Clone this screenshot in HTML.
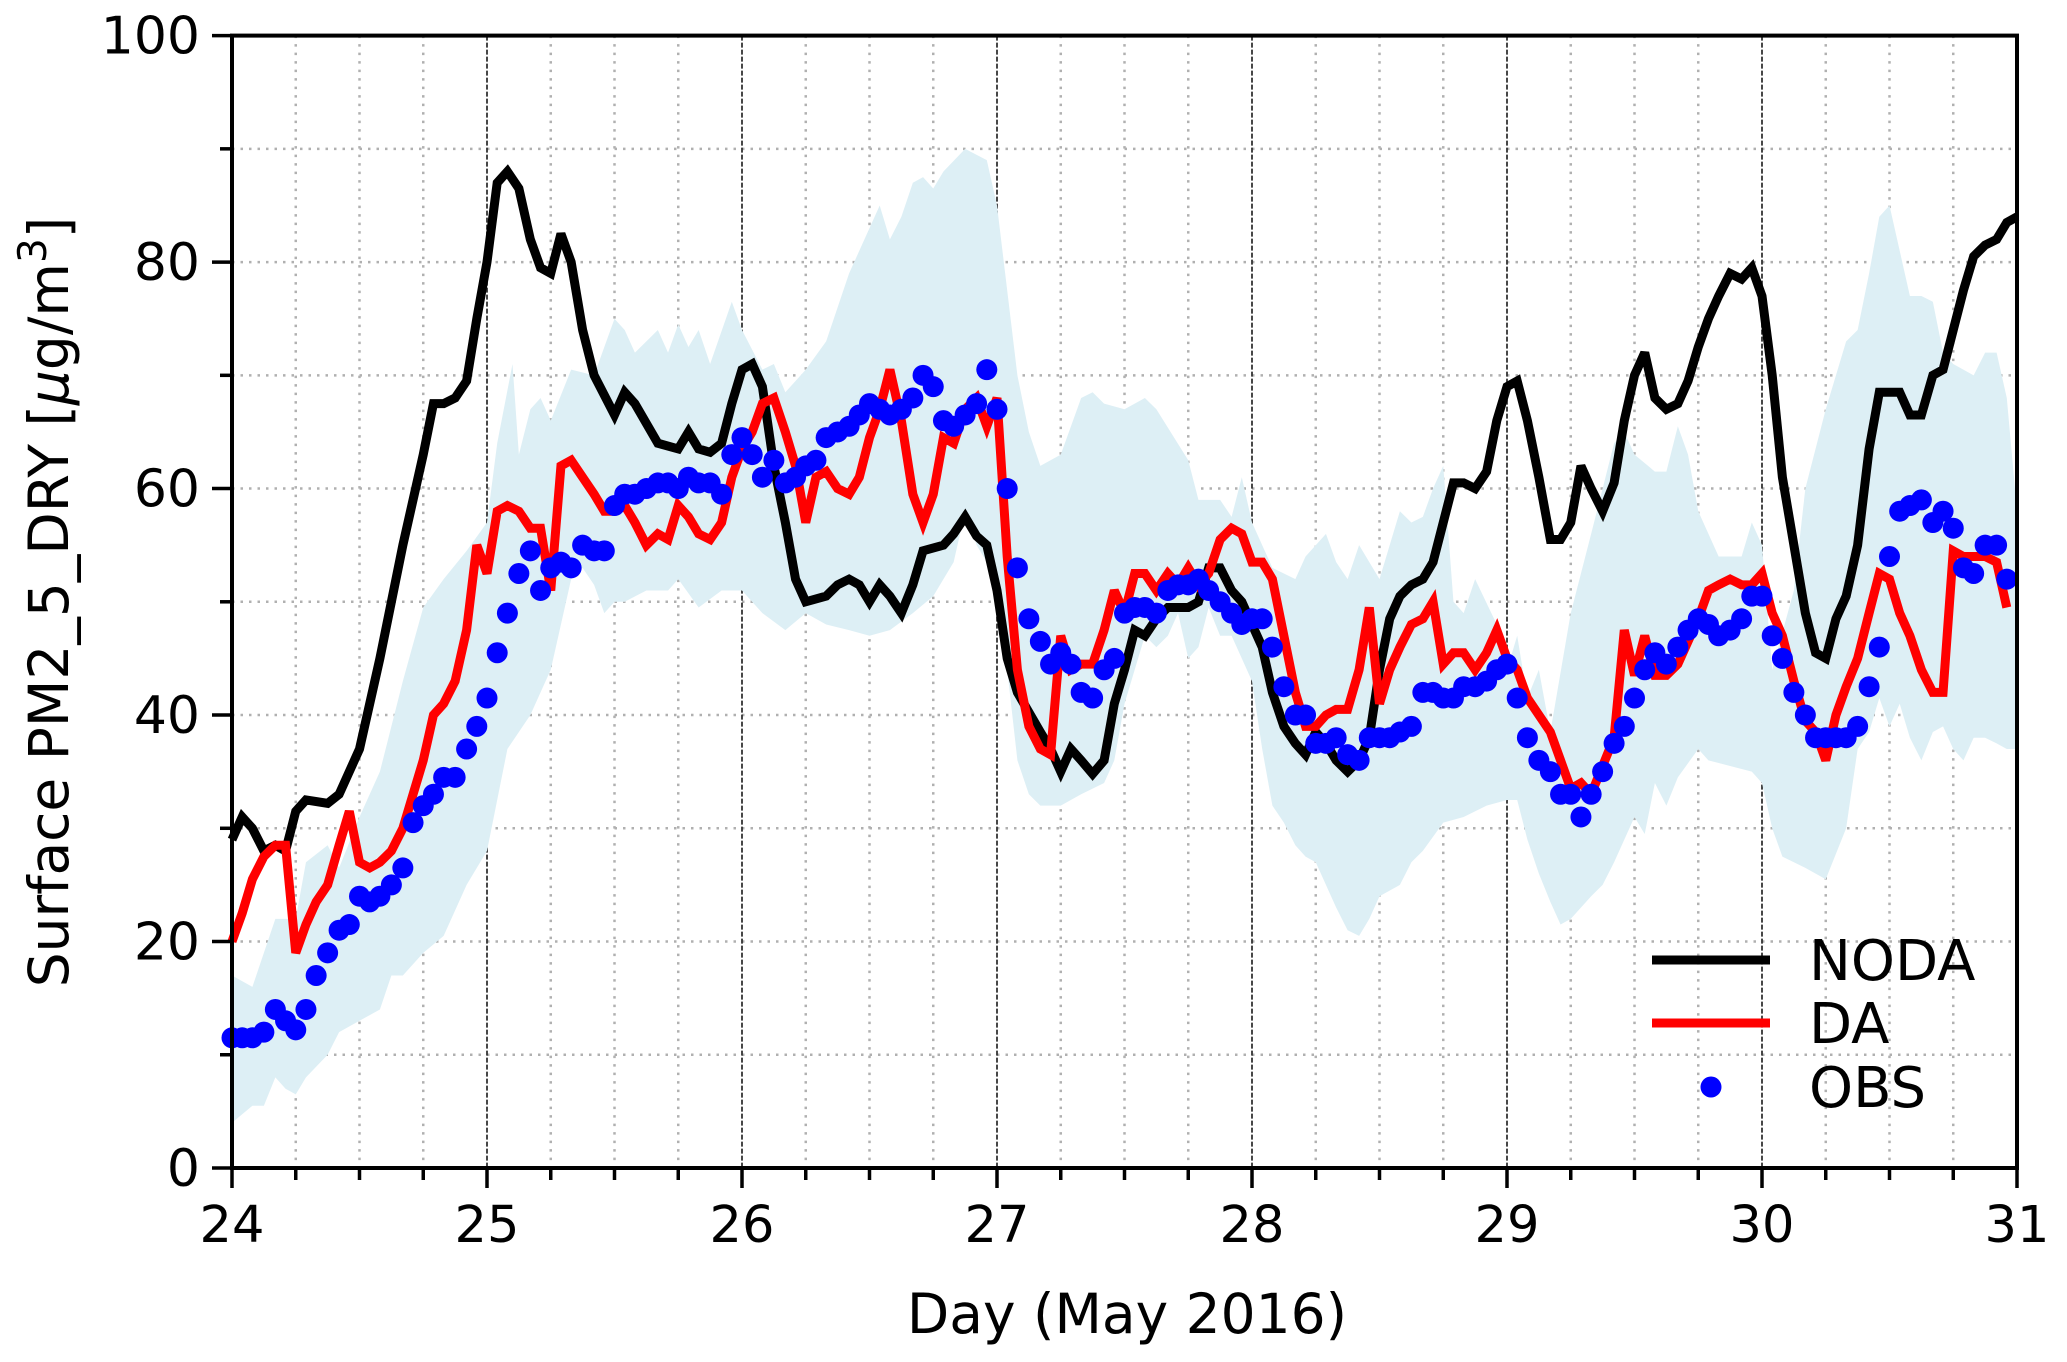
<!DOCTYPE html>
<html><head><meta charset="utf-8"><style>
html,body{margin:0;padding:0;background:#fff;}
svg{display:block;font-family:"DejaVu Sans","Liberation Sans",sans-serif;}
</style></head><body>
<svg id="chart" width="2067" height="1362" viewBox="0 0 2067 1362" xmlns="http://www.w3.org/2000/svg">
<g id="grid"></g>
<g id="band"></g>
<g id="series"></g>
<g id="axes"></g>
<text transform="translate(68,602) rotate(-90)" text-anchor="middle" font-size="55">Surface PM2_5_DRY [<tspan font-style="italic">μ</tspan>g/m<tspan dy="-22" font-size="39">3</tspan><tspan dy="22">]</tspan></text>
<text x="1127" y="1333" text-anchor="middle" font-size="55">Day (May 2016)</text>
<g>
<line x1="1652" y1="960" x2="1770" y2="960" stroke="#000" stroke-width="9"/>
<text x="1809" y="980" font-size="56">NODA</text>
<line x1="1652" y1="1023" x2="1770" y2="1023" stroke="#f00" stroke-width="9"/>
<text x="1809" y="1043" font-size="56">DA</text>
<circle cx="1711" cy="1087" r="10.5" fill="#00f"/>
<text x="1809" y="1107" font-size="56">OBS</text>
</g>
</svg>
<script>
const xTicks=[24,25,26,27,28,29,30,31];
const yTicks=[0,20,40,60,80,100];
const nodaT=[24.0,24.04,24.08,24.125,24.17,24.21,24.25,24.29,24.375,24.42,24.5,24.58,24.67,24.75,24.79,24.83,24.875,24.92,24.96,25.0,25.04,25.08,25.125,25.17,25.21,25.25,25.29,25.33,25.375,25.42,25.5,25.54,25.58,25.67,25.75,25.79,25.83,25.875,25.92,25.96,26.0,26.04,26.08,26.125,26.17,26.21,26.25,26.33,26.375,26.42,26.46,26.5,26.54,26.58,26.625,26.67,26.71,26.79,26.83,26.875,26.92,26.96,27.0,27.04,27.08,27.17,27.21,27.25,27.29,27.33,27.375,27.42,27.46,27.5,27.54,27.58,27.625,27.67,27.75,27.79,27.83,27.875,27.92,27.96,28.0,28.04,28.08,28.125,28.17,28.21,28.25,28.29,28.33,28.375,28.42,28.46,28.5,28.54,28.58,28.625,28.67,28.71,28.75,28.79,28.83,28.875,28.92,28.96,29.0,29.04,29.08,29.125,29.17,29.21,29.25,29.29,29.33,29.375,29.42,29.46,29.5,29.54,29.58,29.625,29.67,29.71,29.75,29.79,29.83,29.875,29.92,29.96,30.0,30.04,30.08,30.125,30.17,30.21,30.25,30.29,30.33,30.375,30.42,30.46,30.5,30.54,30.58,30.625,30.67,30.71,30.75,30.79,30.83,30.875,30.92,30.96,31.0];
const nodaV=[29,31,30,28,28.5,28,31.5,32.5,32.2,33,37,45,55,63,67.5,67.5,68,69.5,75,80,87,88,86.5,82,79.5,79,82.5,80,74,70,66.5,68.5,67.5,64,63.5,65,63.5,63.2,64,67.5,70.5,71,69,62,57,52,50,50.5,51.5,52,51.5,50,51.5,50.5,49,51.5,54.5,55,56,57.5,55.8,55,51,45,42,38.5,37,35,37,36,34.8,36,41,44,47.5,47,48.5,49.5,49.5,50,53,53,51,50,48,46,42,39,37.5,36.5,38.5,37.5,36,35,36,38,44,48.5,50.5,51.5,52,53.5,57,60.5,60.5,60,61.5,66,69,69.5,66,61,55.5,55.5,57,62,60,58,60.5,66,70,72,68,67,67.5,69.5,72.5,75,77,79,78.5,79.5,77,70,61,55,49,45.5,45,48.5,50.5,55,63.5,68.5,68.5,68.5,66.5,66.5,70,70.5,74,77.5,80.5,81.5,82,83.5,84];
const daT=[24.0,24.04,24.08,24.125,24.17,24.21,24.25,24.29,24.33,24.375,24.42,24.46,24.5,24.54,24.58,24.625,24.67,24.71,24.75,24.79,24.83,24.875,24.92,24.96,25.0,25.04,25.08,25.125,25.17,25.21,25.25,25.29,25.33,25.375,25.42,25.46,25.5,25.54,25.58,25.625,25.67,25.71,25.75,25.79,25.83,25.875,25.92,25.96,26.0,26.04,26.08,26.125,26.17,26.21,26.25,26.29,26.33,26.375,26.42,26.46,26.5,26.54,26.58,26.625,26.67,26.71,26.75,26.79,26.83,26.875,26.92,26.96,27.0,27.04,27.08,27.125,27.17,27.21,27.25,27.29,27.33,27.375,27.42,27.46,27.5,27.54,27.58,27.625,27.67,27.71,27.75,27.79,27.83,27.875,27.92,27.96,28.0,28.04,28.08,28.125,28.17,28.21,28.25,28.29,28.33,28.375,28.42,28.46,28.5,28.54,28.58,28.625,28.67,28.71,28.75,28.79,28.83,28.875,28.92,28.96,29.0,29.04,29.08,29.125,29.17,29.21,29.25,29.29,29.33,29.375,29.42,29.46,29.5,29.54,29.58,29.625,29.67,29.71,29.75,29.79,29.83,29.875,29.92,29.96,30.0,30.04,30.08,30.125,30.17,30.21,30.25,30.29,30.33,30.375,30.42,30.46,30.5,30.54,30.58,30.625,30.67,30.71,30.75,30.79,30.83,30.875,30.92,30.96];
const daV=[20,22.5,25.5,27.5,28.5,28.5,19,21.5,23.5,25,28.5,31.5,27,26.5,27,28,30,33,36,40,41,43,47.5,55,52.5,58,58.5,58,56.5,56.5,51,62,62.5,61,59.5,58,58,58.5,57,55,56,55.5,58.5,57.5,56,55.5,57,61,63.5,65,67.5,68,65,62,57,61,61.5,60,59.5,61,64.5,67,70.5,66,59.5,57,59.5,64.5,64,67,68,65.5,68,54,44,39,37,36.5,47,44,44.5,44.5,47.5,51,49,52.5,52.5,51,52.5,51.5,53,51.5,52.5,55.5,56.5,56,53.5,53.5,52,47,42,39,39,40,40.5,40.5,44,49.5,41,44,46,48,48.5,50,44.5,45.5,45.5,44,45.5,47.5,45,44,41.5,40,38.5,36,33.5,34,33,35.5,38,47.5,43.5,47,43.5,43.5,44.5,46.5,48.5,51,51.5,52,51.5,51.5,52.5,49,47,43,39.5,38.5,36,40,42.5,45,49,52.5,52,49,47,44,42,42,54.5,54,54,54,53.5,49.5];
const obsT=daT;
const obsV=[11.5,11.5,11.5,12,14,13,12.2,14,17,19,21,21.5,24,23.5,24,25,26.5,30.5,32,33,34.5,34.5,37,39,41.5,45.5,49,52.5,54.5,51,53,53.5,53,55,54.5,54.5,58.5,59.5,59.5,60,60.5,60.5,60,61,60.5,60.5,59.5,63,64.5,63,61,62.5,60.5,61,62,62.5,64.5,65,65.5,66.5,67.5,67,66.5,67,68,70,69,66,65.5,66.5,67.5,70.5,67,60,53,48.5,46.5,44.5,45.5,44.5,42,41.5,44,45,49,49.5,49.5,49,51,51.5,51.5,52,51,50,49,48,48.5,48.5,46,42.5,40,40,37.5,37.5,38,36.5,36,38,38,38,38.5,39,42,42,41.5,41.5,42.5,42.5,43,44,44.5,41.5,38,36,35,33,33,31,33,35,37.5,39,41.5,44,45.5,44.5,46,47.5,48.5,48,47,47.5,48.5,50.5,50.5,47,45,42,40,38,38,38,38,39,42.5,46,54,58,58.5,59,57,58,56.5,53,52.5,55,55,52];
const bandUpT=[24.0,24.08,24.17,24.25,24.29,24.375,24.42,24.5,24.58,24.67,24.75,24.83,24.92,25.0,25.04,25.1,25.125,25.17,25.21,25.25,25.33,25.42,25.5,25.54,25.58,25.67,25.71,25.75,25.79,25.83,25.875,25.96,26.0,26.08,26.125,26.17,26.25,26.33,26.42,26.5,26.54,26.58,26.625,26.67,26.71,26.75,26.79,26.875,26.96,27.0,27.08,27.125,27.17,27.25,27.33,27.375,27.42,27.5,27.58,27.625,27.75,27.79,27.875,27.92,27.96,28.0,28.08,28.17,28.21,28.29,28.33,28.375,28.42,28.5,28.58,28.625,28.67,28.71,28.75,28.79,28.83,28.875,28.96,29.0,29.04,29.08,29.125,29.17,29.25,29.33,29.42,29.46,29.5,29.58,29.625,29.67,29.71,29.75,29.83,29.875,29.92,29.96,30.0,30.04,30.125,30.17,30.25,30.33,30.375,30.42,30.46,30.5,30.54,30.58,30.625,30.67,30.71,30.75,30.83,30.875,30.92,30.96,31.0];
const bandUpV=[17,16,22,22,27,28.5,26.5,31,35,43,49.5,52,54.5,57,64,71,63,67,68,66,70.5,70,75,74,72,74,72,74.5,72.5,74,71,76.5,74,70.5,71,68.5,70.5,73,79,83,85,82,84,87,87.5,86.5,88,90,89,85,70,65,62,63,68,68.5,67.5,67,68,67,62.5,59,59,57.5,61,57,53,52,54,56,53.5,52,55,52,58,57,57.5,60,62,50,49,52,48,44,47,41.5,44,38.5,49,56,64,65,63,61.5,61.5,65.5,63,58,54,54,54,57,55,44,51,60,67,73,74,79,84,85,81,77,77,76.5,72,71,70,72,72,68,58];
const bandLoT=[24.0,24.08,24.125,24.17,24.21,24.25,24.29,24.375,24.42,24.5,24.58,24.625,24.67,24.75,24.83,24.92,24.96,25.0,25.08,25.17,25.25,25.33,25.375,25.42,25.46,25.5,25.54,25.625,25.67,25.71,25.75,25.83,25.92,26.0,26.08,26.17,26.25,26.33,26.42,26.5,26.58,26.67,26.75,26.83,26.875,26.92,26.96,27.0,27.08,27.125,27.17,27.25,27.33,27.42,27.46,27.5,27.58,27.625,27.67,27.71,27.75,27.79,27.83,27.875,27.92,28.0,28.04,28.08,28.125,28.17,28.21,28.25,28.29,28.33,28.375,28.42,28.46,28.5,28.58,28.625,28.67,28.75,28.83,28.92,29.0,29.04,29.08,29.125,29.17,29.21,29.25,29.33,29.375,29.42,29.5,29.54,29.58,29.625,29.67,29.75,29.79,29.875,29.96,30.0,30.04,30.08,30.17,30.25,30.33,30.375,30.42,30.46,30.5,30.54,30.58,30.625,30.67,30.71,30.75,30.79,30.83,30.875,30.92,30.96,31.0];
const bandLoV=[4,5.5,5.5,8,7,6.5,8,10,12,13,14,17,17,19,20.5,25,26.5,28,37,40,44,52,53,51.5,49,50,50,51,51,51,52,49.5,51,51,49,47.5,49,48,47.5,47,47.5,49,50.5,53.5,58,55,53.5,52,36,33,32,32,33,34,36,41,47,46,47,49,45,46,49.5,47,47,43,37,32,30.5,28.5,27.5,27,25,23,21,20.5,22,24,25,27,28,30.5,31,32,32.5,32.5,29,26,23.5,21.5,22,24,25,27,31,29.5,34,32,34.5,37,36,35.5,35,34,30,27.5,26.5,25.5,30,37,38.5,41.5,39,41,38,36,38.5,39,37,36,38,38,37.5,37,37];

const NS='http://www.w3.org/2000/svg';
const L=232,R=2017,T=35.6,B=1168;
const xS=d=>L+(d-24)/(31-24)*(R-L);
const yS=v=>B-v/100*(B-T);
function mk(tag,attrs,parent){const e=document.createElementNS(NS,tag);for(const k in attrs)e.setAttribute(k,attrs[k]);parent.appendChild(e);return e;}
const grid=document.getElementById('grid'),axes=document.getElementById('axes'),band=document.getElementById('band'),series=document.getElementById('series');
for(let v=10;v<100;v+=10){const l=mk('line',{x1:L,x2:R,y1:yS(v),y2:yS(v),stroke:'#b0b0b0','stroke-width':2.5,'stroke-dasharray':'2.5,6'},grid);

}
for(let d=24.25;d<31;d+=0.25){const major=Math.abs(d-Math.round(d))<1e-6;const l=mk('line',{x1:xS(d),x2:xS(d),y1:T,y2:B,stroke:major?'#333':'#b0b0b0','stroke-width':major?1.8:2.5,'stroke-dasharray':major?'5,2':'2.5,6'},grid);

}
let pts=[];for(let i=0;i<bandUpT.length;i++)pts.push(xS(bandUpT[i])+','+yS(bandUpV[i]));
for(let i=bandLoT.length-1;i>=0;i--)pts.push(xS(bandLoT[i])+','+yS(bandLoV[i]));
const bp=mk('polygon',{points:pts.join(' '),fill:'#ddeff5'},band);


function line(ts,vs,color,name){const p=ts.map((t,i)=>xS(t)+','+yS(vs[i])).join(' ');const e=mk('polyline',{points:p,fill:'none',stroke:color,'stroke-width':9,'stroke-linejoin':'miter','stroke-miterlimit':3},series);

}
line(nodaT,nodaV,'#000','noda-line');
line(daT,daV,'#f00','da-line');
for(let i=0;i<obsT.length;i++){const c=mk('circle',{cx:xS(obsT[i]),cy:yS(obsV[i]),r:10.5,fill:'#00f'},series);

}
const fr=mk('rect',{x:L,y:T,width:R-L,height:B-T,fill:'none',stroke:'#000','stroke-width':4},axes);


for(let v=0;v<=100;v+=10){const major=v%20===0;const t=mk('line',{x1:L-(major?20:12),x2:L,y1:yS(v),y2:yS(v),stroke:'#000','stroke-width':3.5},axes);

}
yTicks.forEach(v=>{const t=mk('text',{x:L-32,y:yS(v)+18,'text-anchor':'end','font-size':52},axes);t.textContent=v;

});
for(let d=24;d<=31.001;d+=0.25){const major=Math.abs(d-Math.round(d))<1e-6;const t=mk('line',{x1:xS(d),x2:xS(d),y1:B,y2:B+(major?20:12),stroke:'#000','stroke-width':3.5},axes);

}
xTicks.forEach(d=>{const t=mk('text',{x:xS(d),y:B+74,'text-anchor':'middle','font-size':51},axes);t.textContent=d;

});
</script>
</body></html>
